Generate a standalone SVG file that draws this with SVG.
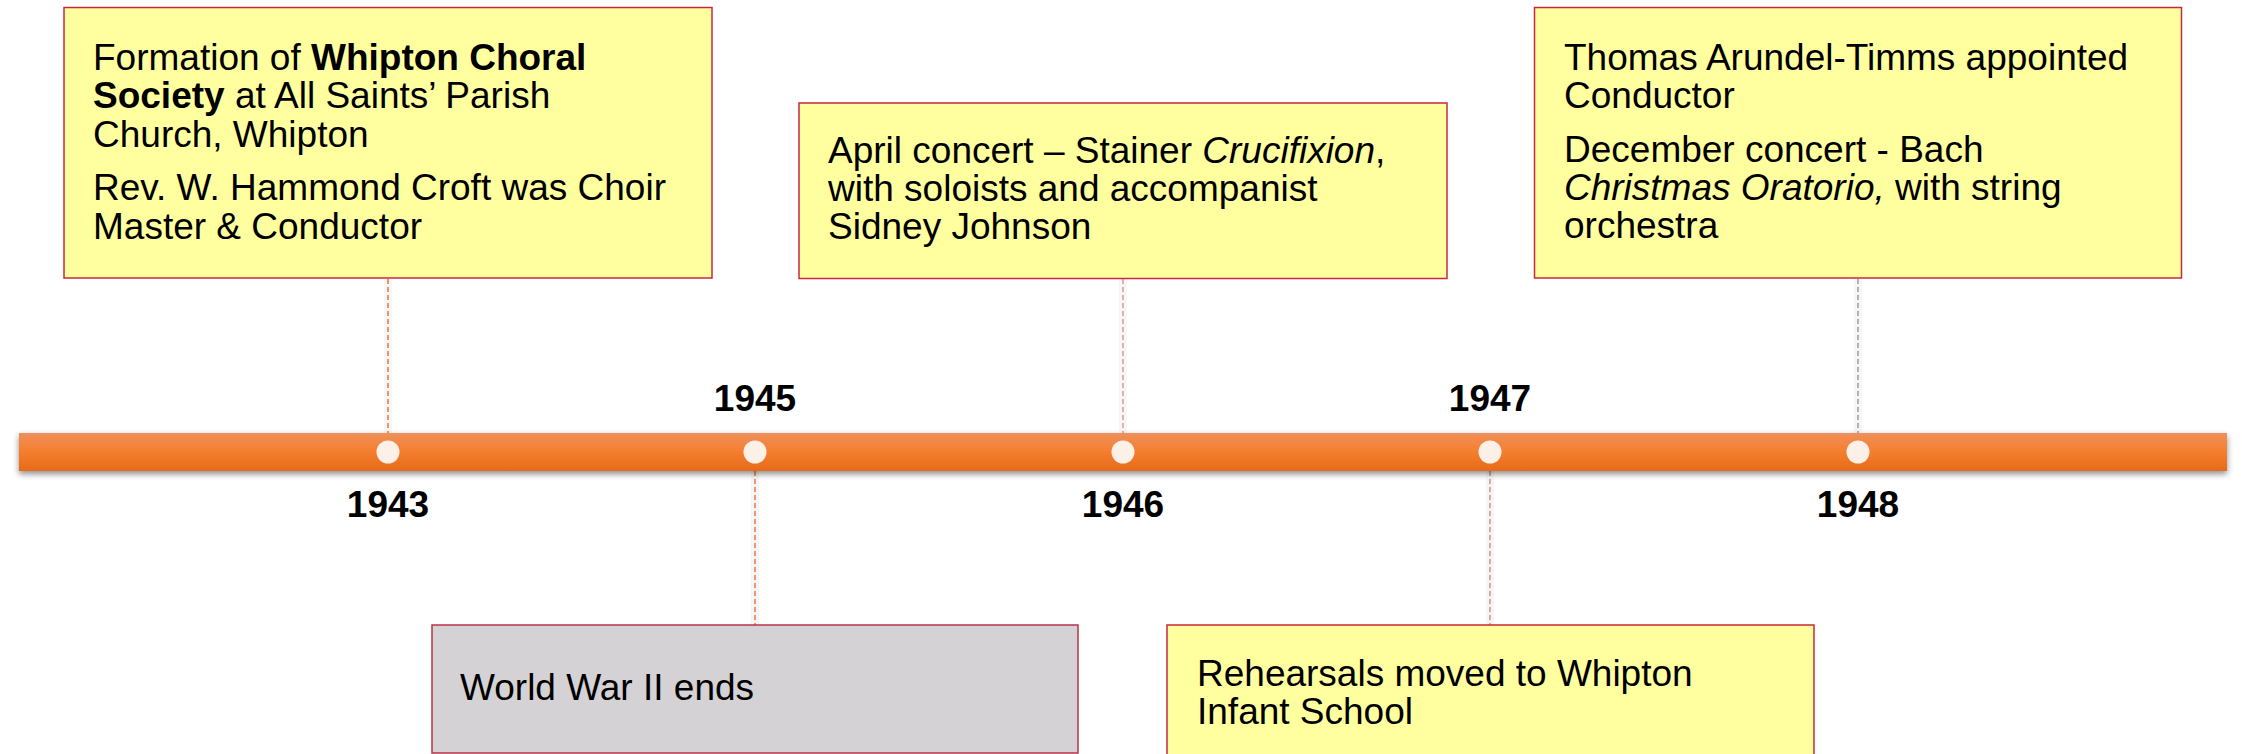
<svg xmlns="http://www.w3.org/2000/svg" width="2242" height="754" viewBox="0 0 2242 754">
<style>
.box{fill:#ffff9f;stroke:#c8283e;stroke-width:1.5}
.gbox{fill:#d4d2d4;stroke:#b8334a;stroke-width:1.5}
.t{font-family:"Liberation Sans",Arial,sans-serif;font-size:37px;fill:#000}
.yr{font-family:"Liberation Sans",Arial,sans-serif;font-size:37px;font-weight:bold;fill:#000;text-anchor:middle}
.b{font-weight:bold}
.i{font-style:italic}
.c{fill:none;stroke-width:1.6;stroke-dasharray:5 3}
.cs{fill:none;stroke:#000;stroke-opacity:0.035;stroke-width:8}
.dot{fill:#fdf0e6}
</style>
<defs>
<linearGradient id="bar" x1="0" y1="0" x2="0" y2="1">
<stop offset="0" stop-color="#f0905c"/>
<stop offset="0.5" stop-color="#f47e2e"/>
<stop offset="1" stop-color="#e66a1a"/>
</linearGradient>
<filter id="sh" x="-5%" y="-50%" width="110%" height="200%">
<feDropShadow dx="0" dy="3" stdDeviation="3" flood-color="#000" flood-opacity="0.45"/>
</filter>
</defs>

<g id="connectors">
<line class="cs" x1="388" y1="279" x2="388" y2="433"/>
<line class="cs" x1="755" y1="471" x2="755" y2="625"/>
<line class="cs" x1="1123" y1="279" x2="1123" y2="433"/>
<line class="cs" x1="1490" y1="471" x2="1490" y2="625"/>
<line class="cs" x1="1858" y1="279" x2="1858" y2="433"/>
<line class="c" x1="388" y1="279" x2="388" y2="433" stroke="#e8803e"/>
<line class="c" x1="755" y1="471" x2="755" y2="625" stroke="#e8804a"/>
<line class="c" x1="1123" y1="279" x2="1123" y2="433" stroke="#d6a898"/>
<line class="c" x1="1490" y1="471" x2="1490" y2="625" stroke="#d89494"/>
<line class="c" x1="1858" y1="279" x2="1858" y2="433" stroke="#a4a4a4"/>
</g>

<g id="timeline">
<rect x="19" y="433" width="2208" height="38" fill="url(#bar)" filter="url(#sh)"/>
<circle class="dot" cx="388" cy="452" r="11.5"/>
<circle class="dot" cx="755" cy="452" r="11.5"/>
<circle class="dot" cx="1123" cy="452" r="11.5"/>
<circle class="dot" cx="1490" cy="452" r="11.5"/>
<circle class="dot" cx="1858" cy="452" r="11.5"/>
</g>

<g id="years">
<text class="yr" x="388" y="517">1943</text>
<text class="yr" x="755" y="411">1945</text>
<text class="yr" x="1123" y="517">1946</text>
<text class="yr" x="1490" y="411">1947</text>
<text class="yr" x="1858" y="517">1948</text>
</g>

<g id="node-1943">
<rect class="box" x="64" y="7.5" width="648" height="270.5"/>
<text class="t" x="93" y="70">Formation of <tspan class="b">Whipton Choral</tspan></text>
<text class="t" x="93" y="108"><tspan class="b">Society</tspan> at All Saints’ Parish</text>
<text class="t" x="93" y="147">Church, Whipton</text>
<text class="t" x="93" y="200">Rev. W. Hammond Croft was Choir</text>
<text class="t" x="93" y="239">Master &amp; Conductor</text>
</g>

<g id="node-1946">
<rect class="box" x="799" y="103" width="648" height="175.5"/>
<text class="t" x="828" y="163">April concert – Stainer <tspan class="i">Crucifixion</tspan>,</text>
<text class="t" x="828" y="201">with soloists and accompanist</text>
<text class="t" x="828" y="239">Sidney Johnson</text>
</g>

<g id="node-1948">
<rect class="box" x="1534.5" y="7.5" width="647" height="270.5"/>
<text class="t" x="1564" y="70">Thomas Arundel-Timms appointed</text>
<text class="t" x="1564" y="108">Conductor</text>
<text class="t" x="1564" y="162">December concert - Bach</text>
<text class="t" x="1564" y="200"><tspan class="i">Christmas Oratorio,</tspan> with string</text>
<text class="t" x="1564" y="238">orchestra</text>
</g>

<g id="node-1945">
<rect class="gbox" x="432" y="625" width="646" height="128"/>
<text class="t" x="460" y="700">World War II ends</text>
</g>

<g id="node-1947">
<rect class="box" x="1167" y="625" width="647" height="135"/>
<text class="t" x="1197" y="686">Rehearsals moved to Whipton</text>
<text class="t" x="1197" y="724">Infant School</text>
</g>
</svg>
